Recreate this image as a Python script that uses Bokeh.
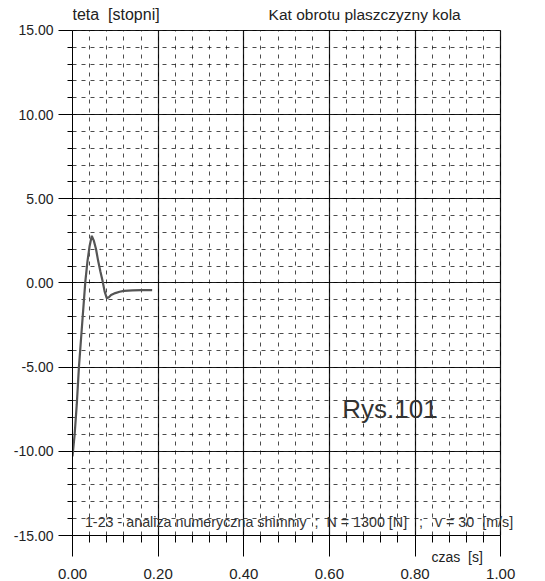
from bokeh.plotting import figure
from bokeh.models import SingleIntervalTicker, NumeralTickFormatter, Label, LinearAxis
from bokeh.embed import file_html
from bokeh.resources import INLINE

# wheel plane rotation angle (deg) versus time (s)
czas = [0.0, 0.005, 0.010, 0.015, 0.020, 0.025, 0.030, 0.035, 0.040, 0.045,
        0.050, 0.055, 0.060, 0.065, 0.070, 0.075, 0.080, 0.085, 0.090, 0.100,
        0.110, 0.120, 0.140, 0.160, 0.186]
teta = [-10.3, -9.0, -7.2, -5.0, -3.3, -1.6, 0.1, 1.3, 2.2, 2.8,
        2.5, 2.0, 1.3, 0.7, 0.15, -0.5, -0.9, -0.85, -0.72, -0.6,
        -0.52, -0.47, -0.44, -0.42, -0.42]

x_ticks_step = 0.2
y_ticks_step = 5
x_span = (0, 1)
y_span = (-15, 15)

FONT = "Liberation Sans"
INK = "#222222"
SP = "\u00a0"

# the frame reaches past the axes' spans so that texts near the edges stay visible
p = figure(width=545, height=581, x_range=(0, 1.03), y_range=(-15, 16.78),
           output_backend="svg", toolbar_location=None,
           min_border_left=72, min_border_right=32,
           min_border_top=0, min_border_bottom=45)
p.title.visible = False
p.background_fill_color = "white"
p.border_fill_color = "white"
p.outline_line_color = None

# y axis
yax = p.yaxis[0]
yax.ticker = SingleIntervalTicker(interval=y_ticks_step, num_minor_ticks=5)
yax.bounds = y_span
yax.major_tick_out = 14
yax.minor_tick_out = 5
yax.major_label_standoff = 5
yax.major_label_text_font_size = "14px"

# x axis: ticks and the axis title
xax = p.xaxis[0]
xax.ticker = SingleIntervalTicker(interval=x_ticks_step, num_minor_ticks=5)
xax.bounds = x_span
xax.major_tick_out = 21
xax.minor_tick_out = 7
xax.major_label_standoff = 0
xax.major_label_text_font_size = "1px"
xax.major_label_text_alpha = 0
xax.axis_label = "czas" + SP * 2 + "[s]" + SP * 29 + "\u200b"
xax.axis_label_align = "end"
xax.axis_label_standoff = -8
xax.axis_label_text_font = FONT
xax.axis_label_text_font_size = "14px"
xax.axis_label_text_font_style = "normal"
xax.axis_label_text_color = INK

# x axis: numbers below
xnum = LinearAxis(ticker=SingleIntervalTicker(interval=x_ticks_step, num_minor_ticks=5),
                  bounds=x_span, axis_line_color=None,
                  major_tick_line_color=None, minor_tick_line_color=None,
                  major_tick_out=0, minor_tick_out=0, major_tick_in=0, minor_tick_in=0,
                  major_label_standoff=1)
xnum.major_label_text_font_size = "15px"
p.add_layout(xnum, "below")

for ax in (xax, yax, xnum):
    ax.formatter = NumeralTickFormatter(format="0.00")
    ax.major_label_text_font = FONT
    ax.major_label_text_color = INK
for ax in (xax, yax):
    ax.axis_line_color = "black"
    ax.major_tick_line_color = "black"
    ax.minor_tick_line_color = "black"
    ax.major_tick_in = 0
    ax.minor_tick_in = 0

# grid: solid majors, dashed minors, kept inside the axes' spans
p.xgrid.ticker = SingleIntervalTicker(interval=x_ticks_step, num_minor_ticks=5)
p.ygrid.ticker = SingleIntervalTicker(interval=y_ticks_step, num_minor_ticks=5)
p.xgrid.bounds = x_span
p.xgrid.cross_bounds = y_span
p.ygrid.bounds = y_span
p.ygrid.cross_bounds = x_span
for g in (p.xgrid, p.ygrid):
    g.grid_line_color = "black"
    g.grid_line_width = 1.2
    g.grid_line_alpha = 0.9
    g.minor_grid_line_color = "black"
    g.minor_grid_line_alpha = 0.7
    g.minor_grid_line_dash = "4 5"
    g.minor_grid_line_width = 1

p.line(czas, teta, line_color="#555555", line_width=2.2)

# texts
p.add_layout(Label(x=0.0, y=15.95, text="teta" + SP * 2 + "[stopni]", text_font=FONT,
                   text_font_size="16px", text_color=INK, text_baseline="middle"))
p.add_layout(Label(x=0.458, y=15.95, text="Kat obrotu plaszczyzny kola", text_font=FONT,
                   text_font_size="15.5px", text_color=INK, text_baseline="middle"))
p.add_layout(Label(x=0.63, y=-7.5, text="Rys.101", text_font=FONT,
                   text_font_size="26px", text_color="#333333",
                   text_baseline="middle"))
sub = ("1-23 - analiza numeryczna shimmy" + SP * 2 + ";" + SP * 2 + "N = 1300 [N]"
       + SP * 3 + ";" + SP * 3 + "v = 30" + SP * 2 + "[m/s]")
p.add_layout(Label(x=0.029, y=-14.2, text=sub,
                   text_font=FONT, text_font_size="14.3px", text_color="#333333",
                   text_baseline="middle"))

open("out.html", "w").write(file_html(p, INLINE))
